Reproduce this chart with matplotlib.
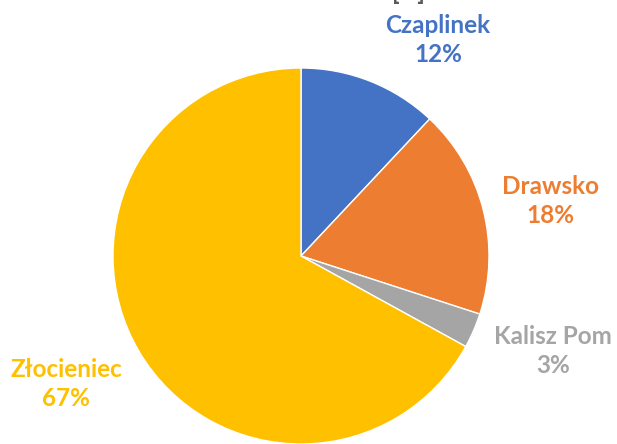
import matplotlib
matplotlib.use("Agg")
import matplotlib.pyplot as plt

categories = ["Czaplinek", "Drawsko", "Kalisz Pom", "Złocieniec"]
values = [12, 18, 3, 67]
colors = ["#4472C4", "#ED7D31", "#A5A5A5", "#FFC000"]
# label anchor positions in pixel coords (x, y from top)
label_pos = [(438, 40), (550, 201), (553, 351), (66, 384)]

W, H = 617, 444
fig = plt.figure(figsize=(W / 100, H / 100), dpi=100)
ax = fig.add_axes([0, 0, 1, 1])

cx, cy, r = 301, H - 256, 188
ax.pie(values, colors=colors, startangle=90, counterclock=False,
       center=(cx, cy), radius=r, frame=True,
       wedgeprops=dict(edgecolor="white", linewidth=1))
ax.set_xlim(0, W)
ax.set_ylim(0, H)
ax.set_aspect("equal")
ax.axis("off")

total = sum(values)
for name, v, c, (px, py) in zip(categories, values, colors, label_pos):
    ax.text(px, H - py, f"{name}\n{round(100 * v / total)}%", color=c,
            ha="center", va="center", fontsize=17.5, fontweight="bold",
            family=["Lato", "DejaVu Sans"], linespacing=1.35)

# partially cut-off title at top
ax.text(408, H + 8, "[   ]", color="#595959", ha="center", va="center",
        fontsize=17.5, fontweight="bold", family=["Lato", "DejaVu Sans"])

fig.savefig("out.png", dpi=100)
